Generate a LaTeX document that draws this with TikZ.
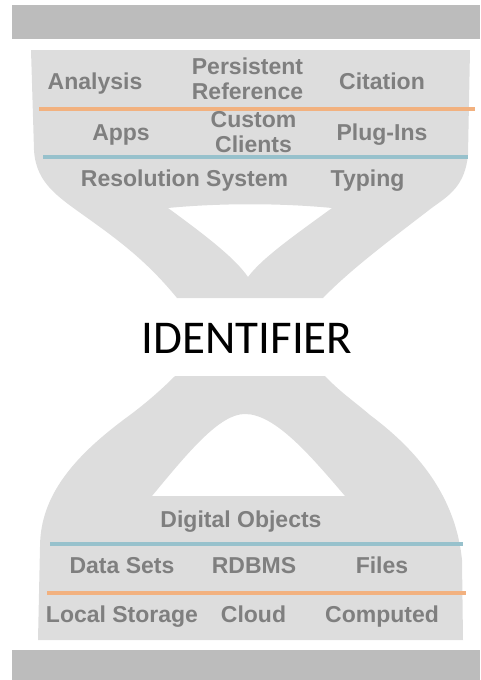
\documentclass[tikz,border=0pt]{standalone}
\usepackage{fontspec}
\setmainfont{Liberation Sans}
\newfontfamily\idfont{Carlito}
\usepackage{xcolor}
\definecolor{bargray}{HTML}{BCBCBC}
\definecolor{shapegray}{HTML}{DDDDDD}
\definecolor{textgray}{HTML}{7F7F7F}
\definecolor{lineorange}{HTML}{F2B17F}
\definecolor{lineblue}{HTML}{97C1CC}

\begin{document}
\begin{tikzpicture}[x=1pt,y=-1pt,
    lbl/.style={anchor=base,inner sep=0pt,align=center,text=textgray,
      font=\bfseries\fontsize{23}{25}\selectfont},
    sep/.style={line width=4pt}]
        \useasboundingbox (0,0) rectangle (481,680);
        %上下の帯
        \fill[bargray] (12,5) rectangle (480,39);
        \fill[bargray] (12,650) rectangle (480,680);
        %上の漏斗
        \fill[shapegray,even odd rule] (31,50)--(470,50)--(468,155)
            .. controls (465,185) and (450,195) .. (433,207)
            .. controls (390,240) and (350,270) .. (323,298)--(177,298)
            .. controls (150,265) and (125,245) .. (93,222)
            .. controls (60,198) and (36,185) .. (34,150)--cycle
            (168,208) .. controls (220,203) and (280,203) .. (332,208)
            .. controls (295,235) and (262,258) .. (248,277)
            .. controls (235,258) and (205,235) .. (168,208)--cycle;
        %下の山
        \fill[shapegray,even odd rule] (175,376)--(325,376)
            .. controls (340,392) and (355,402) .. (370,415)
            .. controls (410,445) and (455,490) .. (462,560)--(463,640)
            --(38,640)--(40,547)
            .. controls (40,495) and (75,455) .. (130,415)
            .. controls (150,400) and (165,386) .. (175,376)--cycle
            (152,496) .. controls (190,450) and (220,414) .. (245,414)
            .. controls (275,414) and (310,455) .. (345,496)--cycle;
        %区切り線
        \draw[sep,lineorange] (39,109)--(475,109);
        \draw[sep,lineblue] (43,157)--(468,157);
        \draw[sep,lineblue] (50,544)--(463,544);
        \draw[sep,lineorange] (47,593)--(466,593);
        %上の項目
        \foreach \x/\y/\n/\t in {95/89/ana/Analysis, 247.5/99/pref/{Persistent\\Reference},
            382/89/cit/Citation, 121/140/apps/Apps, 253.5/152/cust/{Custom\\Clients},
            382/140/plug/Plug-Ins, 184.5/186/res/Resolution System, 367.5/186/typ/Typing}
            \node[lbl] (\n) at (\x,\y) {\t};
        %下の項目
        \foreach \x/\y/\n/\t in {241/527/dobj/Digital Objects, 122/573/dset/Data Sets,
            254/573/rdb/RDBMS, 382/573/file/Files, 122/622/local/Local Storage,
            253.5/622/cloud/Cloud, 382/622/comp/Computed}
            \node[lbl] (\n) at (\x,\y) {\t};
        %中央
        \node[anchor=base,inner sep=0pt,font=\idfont\fontsize{47}{50}\selectfont] (id) at (247,353) {IDENTIFIER};
    \end{tikzpicture}
\end{document}
